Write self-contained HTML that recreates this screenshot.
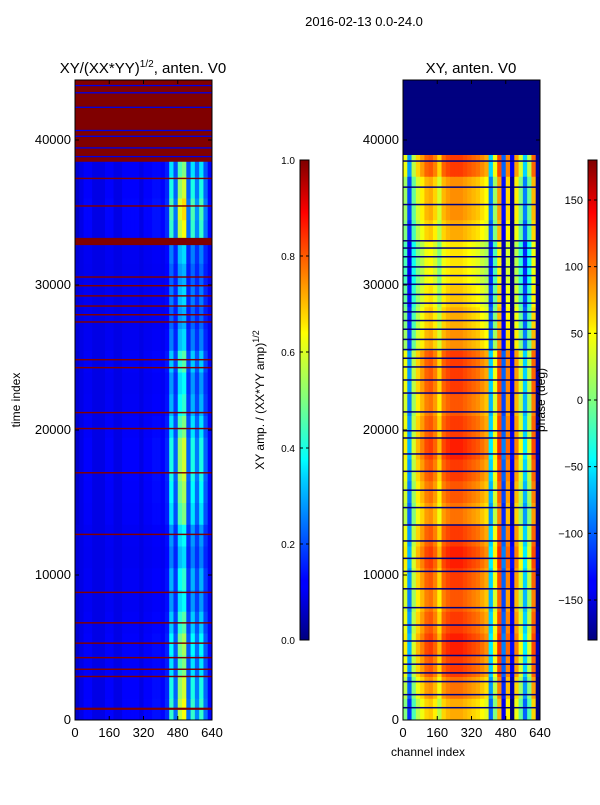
<!DOCTYPE html>
<html><head><meta charset="utf-8"><style>
body{margin:0;background:#fff;width:600px;height:800px;overflow:hidden}
svg text{font-family:"Liberation Sans",sans-serif;fill:#000}
</style></head><body>
<svg id="fig" width="600" height="800" xmlns="http://www.w3.org/2000/svg">
<defs>
<linearGradient id="jetG" x1="0" y1="1" x2="0" y2="0">
<stop offset="0" stop-color="#00007f"/><stop offset="0.11" stop-color="#0000ff"/><stop offset="0.125" stop-color="#0000ff"/>
<stop offset="0.34" stop-color="#00d4ff"/><stop offset="0.375" stop-color="#00ffff"/><stop offset="0.5" stop-color="#7fff7f"/>
<stop offset="0.64" stop-color="#ffff00"/><stop offset="0.66" stop-color="#ffe600"/><stop offset="0.89" stop-color="#ff0000"/><stop offset="1" stop-color="#7f0000"/>
</linearGradient>
</defs>
<text x="364" y="26" font-size="13" text-anchor="middle">2016-02-13 0.0-24.0</text>
<g id="left"></g>
<g id="right"></g>
<text x="143" y="73" font-size="15" text-anchor="middle">XY/(XX*YY)<tspan font-size="10" dy="-6">1/2</tspan><tspan dy="6">, anten. V0</tspan></text>
<text x="471" y="73" font-size="15" text-anchor="middle">XY, anten. V0</text>
<text x="20" y="400" font-size="12" text-anchor="middle" transform="rotate(-90 20 400)">time index</text>
<text x="428" y="756" font-size="12" text-anchor="middle">channel index</text>
<rect x="300" y="160" width="9" height="480" fill="url(#jetG)" stroke="#000" stroke-width="1"/>
<rect x="588" y="160" width="9" height="480" fill="url(#jetG)" stroke="#000" stroke-width="1"/>
<text x="264" y="400" font-size="12" text-anchor="middle" transform="rotate(-90 264 400)">XY amp. / (XX*YY amp)<tspan font-size="9" dy="-5">1/2</tspan></text>
<text x="545" y="400" font-size="12" text-anchor="middle" transform="rotate(-90 545 400)">phase (deg)</text>
<g id="cb"></g>
</svg>
<script>
const yTicks=[0,10000,20000,30000,40000];
const xTicks=[0,160,320,480,640];
const ampTicks=[0.0,0.2,0.4,0.6,0.8,1.0];
const phaseTicks=[-150,-100,-50,0,50,100,150];
const colsL=[0.08,0.1,0.12,0.12,0.1,0.1,0.1,0.12,0.12,0.1,0.1,0.12,0.12,0.12,0.12,0.1,0.12,0.12,0.13,0.13,0.12,0.15,0.35,0.2,0.45,0.5,0.2,0.35,0.22,0.35,0.2,0.12];
const actL=[1.3,1.2,1.0,1.1,0.9,0.7,0.8,0.6,0.7,1.0,1.1,1.2,1.2,1.0,0.8,0.7,0.9,0.6,0.5,0.6,0.5,0.6,1.3,1.4,1.2,1.0,0,0,0,0];
const redBandsL=[[38500,44200],[32750,33250],[700,850],[2950,3050],[3450,3550],[4250,4350],[5250,5350],[6650,6750],[8750,8850],[12750,12850],[17000,17100],[20050,20150],[21150,21250],[24250,24350],[24800,24900],[27400,27500],[27900,28000],[28500,28600],[29200,29300],[29900,30000],[30500,30600],[35400,35500],[37300,37400]];
const blueLinesL=[38900,39500,40300,40700,42300,43300,43800];
const colsR=[40,-80,20,60,80,100,105,90,60,100,110,115,115,115,110,105,100,95,85,75,-60,40,110,-100,90,-140,80,30,-60,20,100,-170];
const shiftR=[-40,-20,0,10,0,-10,0,10,0,-20,-10,0,10,0,-10,0,0,-30,-40,-50,-60,-60,-40,-30,-30,0,-400,-400,-400,-400];
const navyLinesR=[900,1800,2700,3300,3900,4500,5500,6600,7800,9100,10300,11200,12400,13500,14700,15900,17200,18400,19500,20000,21300,22600,23500,24400,25000,25600,26300,27000,27600,28200,28800,29400,30100,30700,31300,32000,32600,33100,34200,35600,36800,38600,39400,40200,41500,43000];
const NS="http://www.w3.org/2000/svg";
const T0=0;
function yS(t){return 720-(t-T0)*580/40000;}
function jet(v){v=Math.max(0,Math.min(1,v));const f=x=>Math.round(255*Math.max(0,Math.min(1,x)));return `rgb(${f(1.5-Math.abs(4*v-3))},${f(1.5-Math.abs(4*v-2))},${f(1.5-Math.abs(4*v-1))})`;}
function mk(tag,at,parent){const e=document.createElementNS(NS,tag);for(const k in at)e.setAttribute(k,at[k]);parent.appendChild(e);return e;}
function panel(g,x0,fill){
  const xS=c=>x0+c*137/640;
  const clip=mk('clipPath',{id:'c'+x0},g);mk('rect',{x:x0,y:80,width:137,height:640},clip);
  const h=mk('g',{'clip-path':`url(#c${x0})`},g);
  
  
  fill(h,xS);
  const fr=mk('rect',{x:x0,y:80,width:137,height:640,fill:'none',stroke:'#000'},g);
  
  
  yTicks.forEach(t=>{const y=yS(t);mk('line',{x1:x0,x2:x0+4,y1:y,y2:y,stroke:'#000'},g);mk('line',{x1:x0+137,x2:x0+133,y1:y,y2:y,stroke:'#000'},g);
    const tx=mk('text',{x:x0-4,y:y+4,'font-size':13,'text-anchor':'end'},g);tx.textContent=t;
    
    });
  xTicks.forEach(c=>{const x=xS(c);mk('line',{x1:x,x2:x,y1:720,y2:716,stroke:'#000'},g);mk('line',{x1:x,x2:x,y1:80,y2:84,stroke:'#000'},g);
    const tx=mk('text',{x:x,y:737,'font-size':13,'text-anchor':'middle'},g);tx.textContent=c;
    
    });
}
panel(document.getElementById('left'),75,(h,xS)=>{
  actL.forEach((a,s)=>{colsL.forEach((v,c)=>{const val=0.1+(v-0.1)*a;
    const r=mk('rect',{x:xS(c*20),y:yS((s+1)*1500),width:xS(20)-xS(0)+0.5,height:yS(0)-yS(1500)+0.5,fill:jet(val)},h);
    
    });});
  redBandsL.forEach(b=>{const r=mk('rect',{x:75,y:yS(b[1]),width:137,height:Math.max(1,yS(b[0])-yS(b[1])),fill:jet(1)},h);
    
    });
  blueLinesL.forEach(t=>{const r=mk('rect',{x:75,y:yS(t),width:137,height:1.3,fill:jet(0.1)},h);
    
    });
});
panel(document.getElementById('right'),403,(h,xS)=>{
  shiftR.forEach((s,si)=>{colsR.forEach((v,c)=>{const ph=Math.max(-180,Math.min(180,v+s));
    const r=mk('rect',{x:xS(c*20),y:yS((si+1)*1500),width:xS(20)-xS(0)+0.5,height:yS(0)-yS(1500)+0.5,fill:jet((ph+180)/360)},h);
    
    });});
  navyLinesR.forEach(t=>{const r=mk('rect',{x:403,y:yS(t),width:137,height:1.5,fill:'#00007f'},h);
    
    });
});
const cb=document.getElementById('cb');
ampTicks.forEach(v=>{const y=640-v*480;mk('line',{x1:300,x2:303,y1:y,y2:y,stroke:'#000'},cb);mk('line',{x1:309,x2:306,y1:y,y2:y,stroke:'#000'},cb);
  const t=mk('text',{x:295,y:y+4,'font-size':10,'text-anchor':'end'},cb);t.textContent=v.toFixed(1);
  
  });
phaseTicks.forEach(v=>{const y=640-(v+180)/360*480;mk('line',{x1:588,x2:591,y1:y,y2:y,stroke:'#000'},cb);mk('line',{x1:597,x2:594,y1:y,y2:y,stroke:'#000'},cb);
  const t=mk('text',{x:583,y:y+4,'font-size':11,'text-anchor':'end'},cb);t.textContent=v<0?'\u2212'+(-v):v;
  
  });
</script>
</body></html>
